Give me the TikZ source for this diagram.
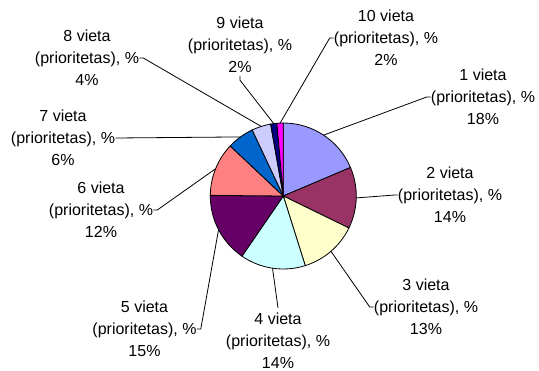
\documentclass[tikz,border=0pt]{standalone}
\usepackage{fontspec}
\setmainfont{Liberation Sans}

\definecolor{pieA}{HTML}{9999FF}
\definecolor{pieB}{HTML}{993366}
\definecolor{pieC}{HTML}{FFFFCC}
\definecolor{pieD}{HTML}{CCFFFF}
\definecolor{pieE}{HTML}{660066}
\definecolor{pieF}{HTML}{FF8080}
\definecolor{pieG}{HTML}{0066CC}
\definecolor{pieH}{HTML}{CCCCFF}
\definecolor{pieI}{HTML}{000080}
\definecolor{pieJ}{HTML}{FF00FF}

\begin{document}
\begin{tikzpicture}[
    x=0.75pt, y=0.75pt,
    slice/.style={draw=black, line width=0.6pt},
    lbl/.style={align=center, inner sep=0pt, font=\fontsize{12}{16.6}\selectfont},
    lead/.style={draw=black, line width=0.6pt}
]
\useasboundingbox (-283.3,-175) rectangle (255.7,196);

% Pie slices, clockwise from the top
\filldraw[slice, fill=pieA] (0,0) -- (90:73) arc[start angle=90, end angle=23, radius=73] -- cycle;
\filldraw[slice, fill=pieB] (0,0) -- (23:73) arc[start angle=23, end angle=-26, radius=73] -- cycle;
\filldraw[slice, fill=pieC] (0,0) -- (-26:73) arc[start angle=-26, end angle=-72.5, radius=73] -- cycle;
\filldraw[slice, fill=pieD] (0,0) -- (-72.5:73) arc[start angle=-72.5, end angle=-124.5, radius=73] -- cycle;
\filldraw[slice, fill=pieE] (0,0) -- (-124.5:73) arc[start angle=-124.5, end angle=-180.5, radius=73] -- cycle;
\filldraw[slice, fill=pieF] (0,0) -- (-180.5:73) arc[start angle=-180.5, end angle=-223.3, radius=73] -- cycle;
\filldraw[slice, fill=pieG] (0,0) -- (-223.3:73) arc[start angle=-223.3, end angle=-244.8, radius=73] -- cycle;
\filldraw[slice, fill=pieH] (0,0) -- (-244.8:73) arc[start angle=-244.8, end angle=-260, radius=73] -- cycle;
\filldraw[slice, fill=pieI] (0,0) -- (-260:73) arc[start angle=-260, end angle=-265, radius=73] -- cycle;
\filldraw[slice, fill=pieJ] (0,0) -- (-265:73) arc[start angle=-265, end angle=-270, radius=73] -- cycle;

% Points on the rim for the leaders
\coordinate (e1) at (56.5:73);
\coordinate (e2) at (-1.5:73);
\coordinate (e3) at (-49.25:73);
\coordinate (e4) at (-98.5:73);
\coordinate (e5) at (-152.5:73);
\coordinate (e6) at (158.1:73);
\coordinate (e7) at (126:73);
\coordinate (e8) at (107.6:73);
\coordinate (e9) at (97.5:73);
\coordinate (e10) at (92.5:73);

% Labels
\node[lbl] (v1) at (199.7,99) {1 vieta\\(prioritetas), \%\\18\%};
\node[lbl] (v2) at (166.7,1) {2 vieta\\(prioritetas), \%\\14\%};
\node[lbl] (v3) at (142.7,-111) {3 vieta\\(prioritetas), \%\\13\%};
\node[lbl] (v4) at (-5.3,-145) {4 vieta\\(prioritetas), \%\\14\%};
\node[lbl] (v5) at (-138.8,-133) {5 vieta\\(prioritetas), \%\\15\%};
\node[lbl] (v6) at (-182.3,-14) {6 vieta\\(prioritetas), \%\\12\%};
\node[lbl] (v7) at (-220.3,58) {7 vieta\\(prioritetas), \%\\6\%};
\node[lbl] (v8) at (-196.3,138) {8 vieta\\(prioritetas), \%\\4\%};
\node[lbl] (v9) at (-43.3,151) {9 vieta\\(prioritetas), \%\\2\%};
\node[lbl] (v10) at (102.7,158) {10 vieta\\(prioritetas), \%\\2\%};

% Leaders
\draw[lead] (v1.west) -- ++(-4,0) -- (e1);
\draw[lead] (v2.west) -- ++(-3,0) -- (e2);
\draw[lead] (v3.west) -- ++(-4,0) -- (e3);
\draw[lead] (v4.north) ++(0,5) -- (e4);
\draw[lead] (v5.east) -- ++(4,0) -- (e5);
\draw[lead] (v6.east) -- ++(4,0) -- (e6);
\draw[lead] (v7.east) -- (e7);
\draw[lead] (v8.east) -- ++(4,0) -- (e8);
\draw[lead] (v9.south) ++(0,-3) -- ++(0,-4) -- (e9);
\draw[lead] (v10.west) -- ++(-4,0) -- (e10);

\end{tikzpicture}
\end{document}
